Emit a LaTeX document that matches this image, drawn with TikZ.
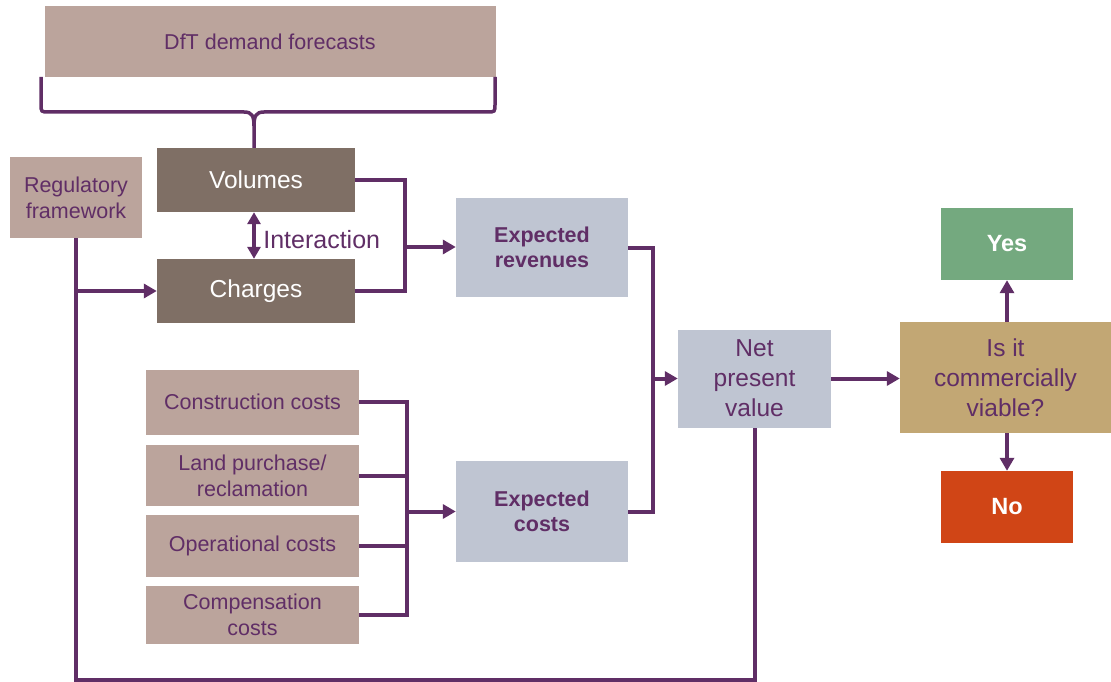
\documentclass[tikz,border=0pt]{standalone}
\usepackage{fontspec}
\setmainfont{Liberation Sans}
\usetikzlibrary{arrows.meta}

\definecolor{plum}{RGB}{96,46,102}
\definecolor{rosy}{RGB}{187,164,156}
\definecolor{umber}{RGB}{127,111,101}
\definecolor{mist}{RGB}{191,197,210}
\definecolor{sand}{RGB}{194,167,116}
\definecolor{sage}{RGB}{116,169,127}
\definecolor{rust}{RGB}{208,69,22}

\tikzset{
    block/.style={rectangle, inner sep=0pt, align=center, text=plum},
    lightbox/.style={block, fill=rosy, font=\fontsize{21.5}{26}\selectfont},
    darkbox/.style={block, fill=umber, text=white, font=\fontsize{24.5}{28}\selectfont,
        minimum width=198pt, minimum height=64pt},
    sumbox/.style={block, fill=mist, font=\bfseries\fontsize{21.5}{25}\selectfont, minimum width=172pt},
    answer/.style={block, text=white, font=\bfseries\fontsize{23.5}{27}\selectfont,
        minimum width=132pt, minimum height=72pt},
    link/.style={draw=plum, line width=4pt},
    flow/.style={link, -{Triangle[length=13pt,width=14pt]}},
}

% one cost input, joined to the cost bus at (cj)
\newcommand{\costbox}[4]{%
    \node[lightbox, minimum width=213pt, minimum height=#3pt] (#1) at (252.5, #2) {#4};%
    \draw[link] (#1.east) -| (cj);%
}

\begin{document}
\begin{tikzpicture}[x=1pt, y=-1pt]
        \useasboundingbox (0, 0) rectangle (1111, 682);

        % --- Demand side ---
        \node[lightbox, minimum width=451pt, minimum height=71pt] (dft) at (270, 41.5) {DfT demand forecasts};
        \node[lightbox, minimum width=132pt, minimum height=81pt] (reg) at (76, 197.5) {Regulatory\\framework};
        \node[darkbox] (vol) at (256, 180) {Volumes};
        \node[darkbox] (chg) at (256, 291) {Charges};

        % brace under the forecasts
        \coordinate (tip) at (254, 148);
        \draw[plum, line width=3.5pt] (41, 77) -- (41, 104) .. controls (41, 112) .. (49, 112) -- (244, 112)
            .. controls (252, 112) and (254, 116) .. (254, 126) -- (tip);
        \draw[plum, line width=3.5pt] (495, 77) -- (495, 104) .. controls (495, 112) .. (487, 112) -- (264, 112)
            .. controls (256, 112) and (254, 116) .. (254, 126);

        \draw[link, {Triangle[length=12pt,width=13pt]}-{Triangle[length=12pt,width=13pt]}] (vol.south -| tip) -- (chg.north -| tip)
            node[midway, right=4pt, yshift=-4pt, text=plum, font=\fontsize{25}{28}\selectfont] {Interaction};

        % --- Revenues ---
        \node[sumbox, minimum height=99pt] (rev) at (542, 247.5) {Expected\\revenues};
        \coordinate (rj) at (405, 247);
        \draw[link] (vol.east) -| (rj);
        \draw[link] (chg.east) -| (rj);
        \draw[flow] (rj) -- (rev.west |- rj);

        % --- Costs ---
        \node[sumbox, minimum height=101pt] (cst) at (542, 511.5) {Expected\\costs};
        \coordinate (cj) at (407, 511.5);
        \costbox{con}{402}{65}{Construction costs}
        \costbox{land}{475.5}{61}{Land purchase/\\reclamation}
        \costbox{ops}{546}{62}{Operational costs}
        \costbox{comp}{615}{58}{Compensation\\costs}
        \draw[flow] (cj) -- (cst.west);

        % --- Net present value and decision ---
        \node[block, fill=mist, minimum width=153pt, minimum height=98pt,
            font=\fontsize{24.5}{30}\selectfont] (npv) at (754.5, 378.5) {Net\\present\\value};
        \coordinate (nj) at (653, 378.5);
        \draw[link] (rev.east) -| (nj);
        \draw[link] (cst.east) -| (nj);
        \draw[flow] (nj) -- (npv.west);

        \node[block, fill=sand, minimum width=211pt, minimum height=111pt,
            font=\fontsize{24.5}{30}\selectfont] (via) at (1005.5, 377.5) {Is it\\commercially\\viable?};
        \node[answer, fill=sage] (yes) at (1007, 244) {Yes};
        \node[answer, fill=rust] (no) at (1007, 507) {No};
        \draw[flow] (npv.east) -- (npv.east -| via.west);
        \draw[flow] (via.north -| yes.south) -- (yes.south);
        \draw[flow] (via.south -| no.north) -- (no.north);

        % regulation feeds charges and the valuation
        \coordinate (bl) at (76, 680);
        \draw[link] (reg.south) -- (bl) -| (npv.south);
        \draw[flow] (reg.south |- chg.west) -- (chg.west);

    \end{tikzpicture}
\end{document}
